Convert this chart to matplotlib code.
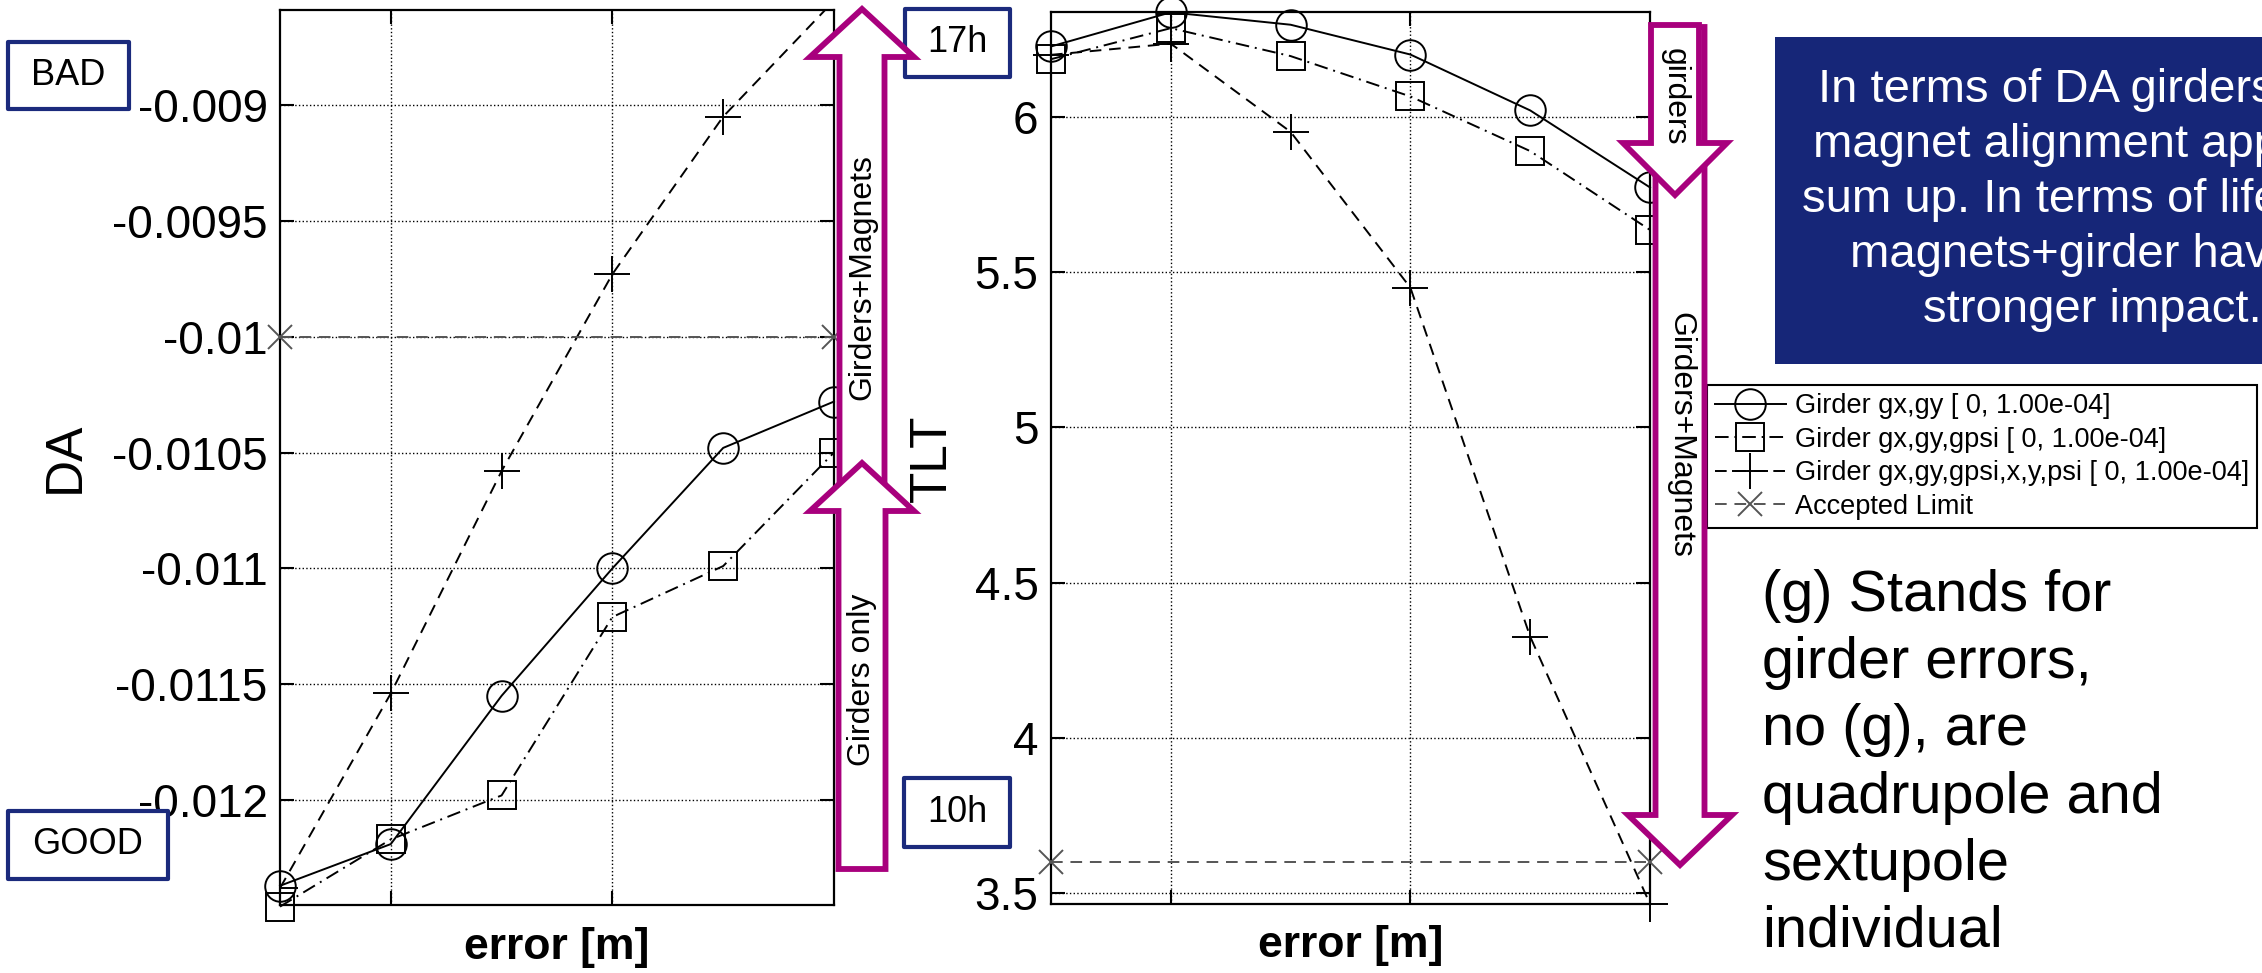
import matplotlib
matplotlib.use('Agg')
import matplotlib.pyplot as plt
from matplotlib.patches import Polygon, Rectangle

plt.rcParams['font.family'] = ['Liberation Sans', 'DejaVu Sans']
plt.rcParams['axes.unicode_minus'] = False

# data (x = error [m], 6 steps up to 1e-4)
err = [0, 2e-5, 4e-5, 6e-5, 8e-5, 1e-4]
da_gxgy = [-0.01237, -0.01219, -0.01155, -0.01100, -0.01048, -0.01028]
da_gpsi = [-0.01246, -0.01217, -0.01198, -0.01121, -0.01099, -0.01050]
da_all = [-0.01238, -0.01154, -0.01058, -0.00973, -0.00905, -0.00855]
da_limit = [-0.01, -0.01]
tlt_gxgy = [6.227, 6.337, 6.297, 6.201, 6.021, 5.773]
tlt_gpsi = [6.186, 6.286, 6.196, 6.066, 5.890, 5.636]
tlt_all = [6.20, 6.236, 5.952, 5.450, 4.326, 3.465]
tlt_limit = [3.6, 3.6]

labels = ['Girder gx,gy [ 0, 1.00e-04]',
          'Girder gx,gy,gpsi [ 0, 1.00e-04]',
          'Girder gx,gy,gpsi,x,y,psi [ 0, 1.00e-04]',
          'Accepted Limit']
da_ticks = [-0.012, -0.0115, -0.011, -0.0105, -0.01, -0.0095, -0.009]
da_ticklabels = ['-0.012', '-0.0115', '-0.011', '-0.0105', '-0.01', '-0.0095', '-0.009']
tlt_ticks = [3.5, 4, 4.5, 5, 5.5, 6]
tlt_ticklabels = ['3.5', '4', '4.5', '5', '5.5', '6']
grid_x = [2e-5, 6e-5]

note_blue = ('In terms of DA girders and\nmagnet alignment appears\n'
             'sum up. In terms of lifetime,\nmagnets+girder have a\nstronger impact.')
note_g = '(g) Stands for\ngirder errors,\nno (g), are\nquadrupole and\nsextupole\nindividual'

W, H = 2262, 973
NAVY = '#1b2a7c'
MAG = '#a8007d'

fig = plt.figure(figsize=(W / 100, H / 100), dpi=100)


def fbox(x0, y0, x1, y1):
    # pixel box, origin top-left -> figure fraction rect
    return [x0 / W, 1 - y1 / H, (x1 - x0) / W, (y1 - y0) / H]


ax1 = fig.add_axes(fbox(280, 10, 834, 905))
ax2 = fig.add_axes(fbox(1051, 12, 1650, 904))

st = dict(color='k', lw=1.4, mfc='none', mew=1.4)


def draw(ax, ys, lim, clip_plus):
    h1, = ax.plot(err, ys[0], '-', marker='o', ms=22, clip_on=False, zorder=3, **st)
    h2, = ax.plot(err, ys[1], '-.', marker='s', ms=20, clip_on=False, zorder=3,
                  dashes=(7, 3, 1, 3), **st)
    h3, = ax.plot(err, ys[2], '--', marker='+', ms=26, clip_on=clip_plus, zorder=3,
                  dashes=(6, 4), **st)
    h4, = ax.plot([err[0], err[-1]], lim, '--', marker='x', ms=17, color='#555555',
                  lw=1.4, mew=1.4, dashes=(6, 4), clip_on=False, zorder=3)
    return [h1, h2, h3, h4]


draw(ax1, [da_gxgy, da_gpsi, da_all], da_limit, True)
handles = draw(ax2, [tlt_gxgy, tlt_gpsi, tlt_all], tlt_limit, False)

ax1.set_ylim(-0.012453, -0.00859)
ax1.set_yticks(da_ticks)
ax1.set_yticklabels(da_ticklabels)
ax2.set_ylim(3.465, 6.338)
ax2.set_yticks(tlt_ticks)
ax2.set_yticklabels(tlt_ticklabels)

for ax in (ax1, ax2):
    ax.set_xlim(0, 1e-4)
    ax.set_xticks(grid_x)
    ax.set_xticklabels([])
    ax.tick_params(direction='in', length=10, width=1.5, top=True, right=True,
                   labelsize=33, pad=9)
    ax.grid(True, ls=':', color='k', lw=1.0)
    for s in ax.spines.values():
        s.set_linewidth(1.6)
    ax.set_xlabel('error [m]', fontsize=32, fontweight='bold', va='center')
    ax.xaxis.set_label_coords(0.5, -42 / 895)

ax1.set_ylabel('DA', fontsize=37, va='center')
ax1.yaxis.set_label_coords((65 - 280) / 554, 0.5)
ax2.set_ylabel('TLT', fontsize=37, va='center')
ax2.yaxis.set_label_coords((932 - 1051) / 599, 0.5)

leg = fig.legend(handles, labels, loc='upper left',
                 bbox_to_anchor=(1707 / W, 1 - 385 / H), bbox_transform=fig.transFigure,
                 fontsize=19.5, fancybox=False, edgecolor='k', framealpha=1,
                 borderpad=0.3, labelspacing=0.28, handlelength=2.6,
                 handletextpad=0.35, borderaxespad=0)
leg.get_frame().set_linewidth(1.5)

# overlay in pixel coordinates for the slide decorations
ov = fig.add_axes([0, 0, 1, 1], zorder=10)
ov.set_xlim(0, W)
ov.set_ylim(H, 0)
ov.axis('off')


def label_box(x0, y0, x1, y1, txt):
    ov.add_patch(Rectangle((x0, y0), x1 - x0, y1 - y0, fc='white', ec=NAVY, lw=3,
                           joinstyle='round'))
    ov.text((x0 + x1) / 2, (y0 + y1) / 2, txt, fontsize=26, ha='center', va='center')


label_box(8, 42, 129, 109, 'BAD')
label_box(8, 811, 168, 879, 'GOOD')
label_box(905, 9, 1010, 77, '17h')
label_box(904, 778, 1010, 847, '10h')


def block_arrow(cx, tail, base, tip, sw, hw, txt, ty, rot):
    pts = [(cx, tip), (cx + hw, base), (cx + sw, base), (cx + sw, tail),
           (cx - sw, tail), (cx - sw, base), (cx - hw, base)]
    ov.add_patch(Polygon(pts, closed=True, fc='white', ec=MAG, lw=4.2, joinstyle='miter'))
    ov.text(cx, ty, txt, fontsize=23, rotation=rot, ha='center', va='center')


block_arrow(862, 600, 57, 9, 22.5, 52, 'Girders+Magnets', 277, 90)
block_arrow(862, 869, 511, 463, 23.5, 52, 'Girders only', 680, 90)
block_arrow(1680, 27, 815, 865, 24.5, 52, 'Girders+Magnets', 435, -90)
block_arrow(1675, 25, 143, 195, 24, 52, 'girders', 97, -90)

ov.add_patch(Rectangle((1775, 37), 600, 327, fc='#162678', ec='none'))
ov.text(2092, 200, note_blue, color='white', fontsize=34, ha='center', va='center',
        multialignment='center', linespacing=1.33)
ov.text(1762, 764, note_g, fontsize=41.5, ha='left', va='center', linespacing=1.31)

fig.savefig('out.png', dpi=100)
